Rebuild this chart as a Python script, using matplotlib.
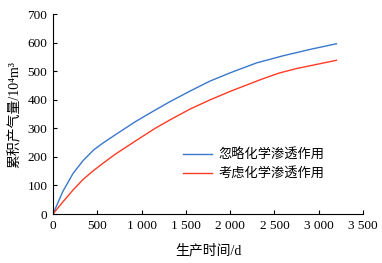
import numpy as np
import matplotlib.pyplot as plt

plt.rcParams['font.family'] = ['Liberation Serif', 'Noto Sans CJK SC']

# production time (d) and cumulative gas (10^4 m^3)
t_ignore = [0, 113, 226, 339, 460, 565, 700, 926, 1151, 1321, 1547, 1772,
            2000, 2300, 2600, 2900, 3200]
q_ignore = [0, 80, 142, 187, 225, 249, 277, 323, 364, 394, 431, 466,
            495, 530, 555, 577, 597]
t_consider = [0, 113, 226, 339, 452, 565, 700, 926, 1151, 1321, 1547, 1772,
              2000, 2350, 2550, 2750, 3200]
q_consider = [0, 43, 84, 121, 151, 178, 209, 255, 300, 330, 368, 400,
              430, 472, 494, 510, 539]
labels = ['忽略化学渗透作用', '考虑化学渗透作用']

fig = plt.figure(figsize=(3.82, 2.63), dpi=100)
ax = fig.add_axes([0.1387, 0.1863, 0.8115, 0.759])

ax.plot(t_ignore, q_ignore, color='#3a78cc', lw=1.0, label=labels[0])
ax.plot(t_consider, q_consider, color='#ff3b24', lw=1.0, label=labels[1])

ax.set_xlim(0, 3500)
ax.set_ylim(0, 700)
ax.set_xticks(np.arange(0, 3501, 500))
ax.set_xticklabels(['0', '500', '1 000', '1 500', '2 000', '2 500', '3 000', '3 500'])
ax.set_yticks(np.arange(0, 701, 100))
ax.tick_params(direction='in', length=3, labelsize=9.5, pad=4)
ax.spines['top'].set_visible(False)
ax.spines['right'].set_visible(False)

ax.set_xlabel('生产时间/d', fontsize=10, labelpad=9)
ax.set_ylabel('累积产气量/10⁴m³', fontsize=10, labelpad=4)

ax.legend(loc='upper left', bbox_to_anchor=(0.38, 0.385), frameon=False,
          fontsize=9.5, handlelength=2.2, handletextpad=0.5, labelspacing=0.4)

fig.savefig('out.png', dpi=100)
